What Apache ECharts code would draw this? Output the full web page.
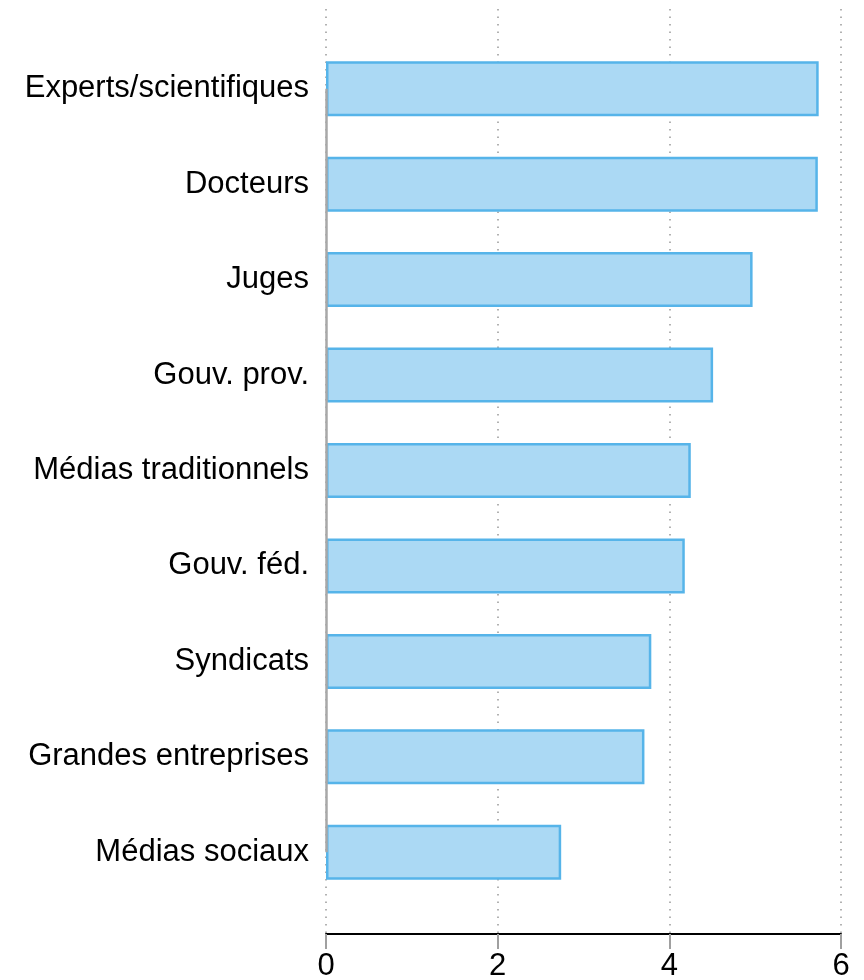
<!DOCTYPE html>
<html>
<head>
<meta charset="utf-8">
<script src="https://cdn.jsdelivr.net/npm/echarts@6/dist/echarts.min.js"></script>
<style>
	html, body { margin: 0; padding: 0; background: #fff; }
	#main { width: 864px; height: 980px; }
</style>
</head>
<body>
<div id="main"></div>
<script>
	// categories from top to bottom
	var categories = ['Experts/scientifiques', 'Docteurs', 'Juges', 'Gouv. prov.', 'Médias traditionnels', 'Gouv. féd.', 'Syndicats', 'Grandes entreprises', 'Médias sociaux'];
	var values = [5.74, 5.73, 4.97, 4.51, 4.25, 4.18, 3.79, 3.71, 2.74];
	var xTicks = [0, 2, 4, 6];

	var fontFamily = "'Liberation Sans', Arial, Helvetica, sans-serif";
	var myChart = echarts.init(document.getElementById('main'));
	myChart.setOption({
		backgroundColor: '#ffffff',
		animation: false,
		grid: [{
			left: 326, right: 23, top: 41, bottom: 80, // bars
			outerBoundsMode: 'none'
		}, {
			left: 326, right: 23, top: 9, bottom: 46, // x axis + grid lines
			outerBoundsMode: 'none'
		}],
		xAxis: [{
			gridIndex: 0,
			type: 'value',
			min: xTicks[0],
			max: xTicks[xTicks.length - 1],
			show: false
		}, {
			gridIndex: 1,
			type: 'value',
			min: xTicks[0],
			max: xTicks[xTicks.length - 1],
			interval: 2,
			axisLine: { show: true, lineStyle: { color: '#000', width: 2 } },
			axisTick: { show: true, length: 15, lineStyle: { color: '#a0a0a0', width: 2 } },
			axisLabel: { color: '#000', fontSize: 31, fontFamily: fontFamily, margin: 17 },
			splitLine: { show: true, lineStyle: { color: '#999999', width: 1.5, type: [1.5, 6] } }
		}],
		yAxis: [{
			gridIndex: 0,
			type: 'category',
			inverse: true,
			data: categories,
			axisLine: { show: false },
			axisTick: { show: false },
			axisLabel: { color: '#000', fontSize: 31, fontFamily: fontFamily, margin: 17 }
		}, {
			gridIndex: 1,
			type: 'value',
			min: 0,
			max: 1,
			show: false
		}],
		series: [{
			type: 'bar',
			xAxisIndex: 0,
			yAxisIndex: 0,
			data: values,
			barWidth: 55,
			itemStyle: { color: '#abd9f4', borderColor: '#56b4e9', borderWidth: 2.5 },
			markLine: {
				silent: true,
				symbol: 'none',
				label: { show: false },
				lineStyle: { color: '#a8a8a8', width: 2.5, type: 'solid' },
				data: [[
					{ xAxis: 0, yAxis: categories[0] },
					{ xAxis: 0, yAxis: categories[categories.length - 1] }
				]]
			}
		}]
	});
</script>
</body>
</html>
